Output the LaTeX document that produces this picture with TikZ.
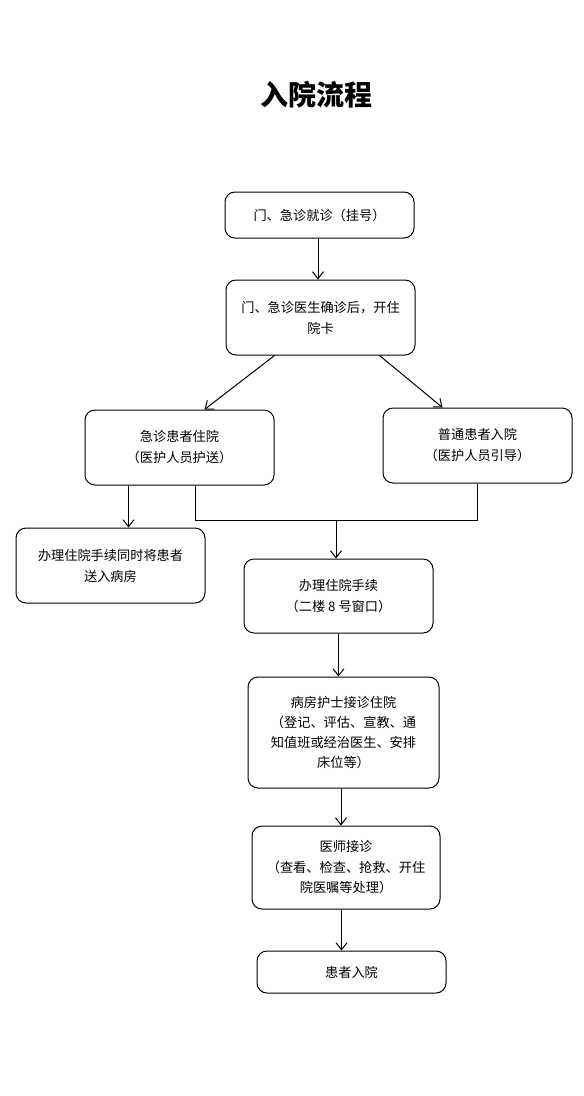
\documentclass[tikz,border=0pt]{standalone}
\usepackage{fontspec}
\setmainfont{Noto Sans CJK SC}
\usetikzlibrary{arrows.meta,calc}
\tikzset{
  box/.style={draw, line width=1pt, rounded corners=10pt, inner sep=0pt, align=center,
              font=\fontsize{13.2}{21}\selectfont},
  arr/.style={line width=1pt, -{Straight Barb[length=7pt,width=11pt,line width=1pt]}},
  conn/.style={line width=1pt},
  ttl/.style={font=\fontsize{28}{32}\selectfont\bfseries}
}
\begin{document}
\begin{tikzpicture}[x=1pt,y=-1pt]
\useasboundingbox[fill=white] (0,0) rectangle (584,1096);
\node[ttl] (title) at (316,95) {入院流程};
\node[box, minimum width=189pt, minimum height=46pt] (b1) at (319.5,215) {门、急诊就诊（挂号）};
\node[box, minimum width=189pt, minimum height=75pt] (b2) at (320.5,317.5) {门、急诊医生确诊后，开住\\院卡};
\node[box, minimum width=189pt, minimum height=75pt] (b3) at (179.5,447.5) {急诊患者住院\\（医护人员护送）};
\node[box, minimum width=189pt, minimum height=75pt] (b4) at (477.5,445.5) {普通患者入院\\（医护人员引导）};
\node[box, minimum width=189pt, minimum height=75pt] (b5) at (110.5,565.5) {办理住院手续同时将患者\\送入病房};
\node[box, minimum width=189pt, minimum height=74pt] (b6) at (338.5,596) {办理住院手续\\（二楼 8 号窗口）};
\node[box, minimum width=191pt, minimum height=111pt, font=\fontsize{13.2}{20}\selectfont] (b7) at (343.5,732.5) {病房护士接诊住院\\（登记、评估、宣教、通\\知值班或经治医生、安排\\床位等）};
\node[box, minimum width=188pt, minimum height=83pt, font=\fontsize{13.2}{20.5}\selectfont] (b8) at (346,867.5) {医师接诊\\（查看、检查、抢救、开住\\院医嘱等处理）};
\node[box, minimum width=189pt, minimum height=42pt] (b9) at (351.5,972) {患者入院};
\coordinate (j) at (336,520);
\draw[arr] ($(b1.south)+(-1.5,0)$) coordinate (a1) -- (a1 |- b2.north);
\draw[arr] ($(b2.south west)+(49,0)$) -- ($(b3.north west)+(120,0)$);
\draw[arr] ($(b2.south west)+(154,0)$) -- ($(b4.north west)+(60,0)$);
\draw[arr] ($(b3.south west)+(44,0)$) coordinate (a3) -- (a3 |- b5.north);
\draw[conn] ($(b3.south west)+(111,0)$) coordinate (p) -- (p |- j) -| ($(b4.south west)+(95,0)$);
\draw[arr] (j) -- (j |- b6.north);
\draw[arr] (b6.south) -- (b6.south |- b7.north);
\draw[arr] ($(b7.south)+(-2.5,0)$) coordinate (a7) -- (a7 |- b8.north);
\draw[arr] ($(b8.south)+(-4.5,0)$) coordinate (a8) -- (a8 |- b9.north);
\end{tikzpicture}
\end{document}
